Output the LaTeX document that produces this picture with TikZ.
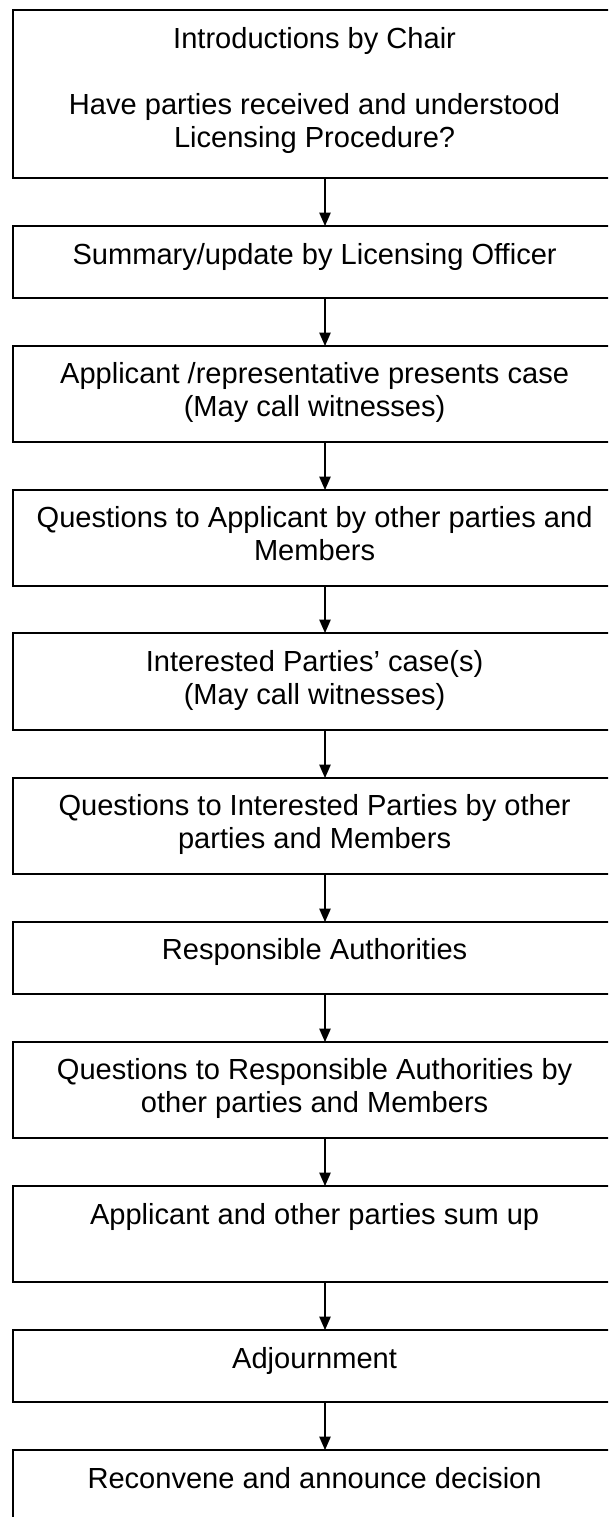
\documentclass[tikz,border=0pt]{standalone}
\usepackage{fontspec}
\setmainfont{Liberation Sans}
\usetikzlibrary{arrows.meta}
\tikzset{
  box/.style={draw=black, line width=1.3pt, outer sep=0pt, inner sep=0pt, minimum width=453pt, anchor=north west},
  txt/.style={align=center, inner sep=0pt, anchor=base, font=\fontsize{21.8}{24.75}\selectfont},
  arr/.style={draw=black, line width=1pt, -{Triangle[length=10pt,width=8.5pt]}}
}
\begin{document}
\begin{tikzpicture}[x=0.75pt,y=-0.75pt]
\clip (0,0) rectangle (608,1517);
\fill[white] (0,0) rectangle (608,1517);
\coordinate (ax) at (325,0);
% boxes
\node[box, minimum height=126pt] (b1) at (13,10) {};
\node[box, minimum height=54pt]  (b2) at (13,226) {};
\node[box, minimum height=72pt]  (b3) at (13,346) {};
\node[box, minimum height=72pt]  (b4) at (13,490) {};
\node[box, minimum height=72.75pt] (b5) at (13,633) {};
\node[box, minimum height=72pt]  (b6) at (13,778) {};
\node[box, minimum height=54pt]  (b7) at (13,922) {};
\node[box, minimum height=72pt]  (b8) at (13,1042) {};
\node[box, minimum height=72pt]  (b9) at (13,1186) {};
\node[box, minimum height=54pt]  (b10) at (13,1330) {};
\node[box, minimum height=72pt]  (b11) at (13,1450) {};
% texts (base anchor = baseline of the last line)
\node[txt] (t1) at (314.6,147) {Introductions by Chair\\ \strut\\ Have parties received and understood\\ Licensing Procedure?};
\node[txt] (t2) at (314.6,264) {Summary/update by Licensing Officer};
\node[txt] (t3) at (314.6,416) {Applicant /representative presents case\\ (May call witnesses)};
\node[txt] (t4) at (314.6,560) {Questions to Applicant by other parties and\\ Members};
\node[txt] (t5) at (314.6,704) {Interested Parties’ case(s)\\ (May call witnesses)};
\node[txt] (t6) at (314.6,848) {Questions to Interested Parties by other\\ parties and Members};
\node[txt] (t7) at (314.6,959) {Responsible Authorities};
\node[txt] (t8) at (314.6,1112) {Questions to Responsible Authorities by\\ other parties and Members};
\node[txt] (t9) at (314.6,1224) {Applicant and other parties sum up};
\node[txt] (t10) at (314.6,1368) {Adjournment};
\node[txt] (t11) at (314.6,1488) {Reconvene and announce decision};
% arrows
\draw[arr] (b1.south -| ax) -- (b2.north -| ax);
\draw[arr] (b2.south -| ax) -- (b3.north -| ax);
\draw[arr] (b3.south -| ax) -- (b4.north -| ax);
\draw[arr] (b4.south -| ax) -- (b5.north -| ax);
\draw[arr] (b5.south -| ax) -- (b6.north -| ax);
\draw[arr] (b6.south -| ax) -- (b7.north -| ax);
\draw[arr] (b7.south -| ax) -- (b8.north -| ax);
\draw[arr] (b8.south -| ax) -- (b9.north -| ax);
\draw[arr] (b9.south -| ax) -- (b10.north -| ax);
\draw[arr] (b10.south -| ax) -- (b11.north -| ax);
\end{tikzpicture}
\end{document}
